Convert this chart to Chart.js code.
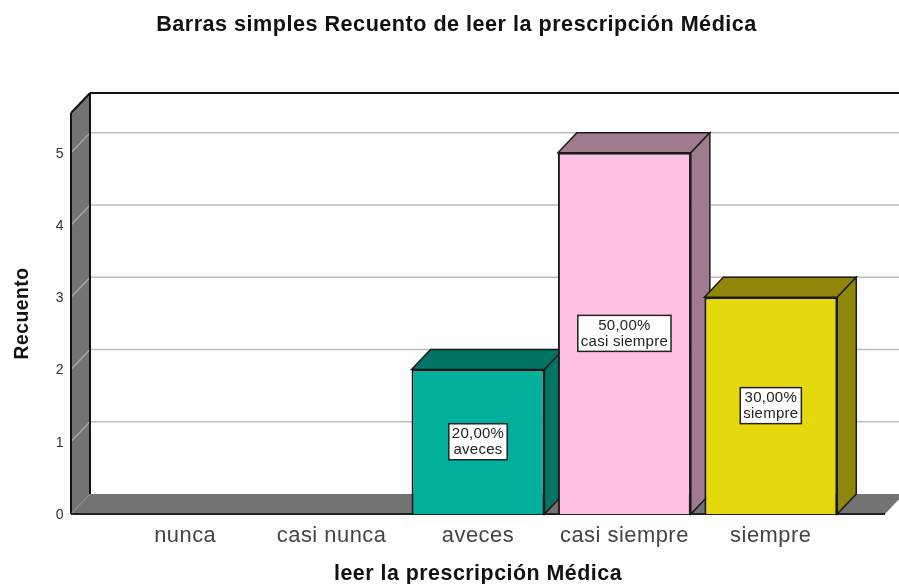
<!DOCTYPE html>
<html lang="es">
<head>
  <meta charset="UTF-8">
  <title>Barras simples Recuento de leer la prescripción Médica</title>
  <script src="https://cdn.jsdelivr.net/npm/chart.js"></script>
  <style>
    html, body { margin: 0; background: #fff; }
    canvas { display: block; }
  </style>
</head>
<body>
  <canvas id="myChart" width="899" height="584"></canvas>

  <script>
    const categories = ['nunca', 'casi nunca', 'aveces', 'casi siempre', 'siempre'];
    const counts = [0, 0, 2, 5, 3];
    const percents = ['', '', '20,00%', '50,00%', '30,00%'];

    const frontColors = ['#00b09b', '#00b09b', '#00b09b', '#ffc0e3', '#e5d90e'];
    const sideColors = ['#007565', '#007565', '#007565', '#a07b8f', '#8f860a'];

    // how far the back wall sits from the front plane
    const depthX = 19;
    const depthY = -20;
    const font = 'Liberation Sans, Arial, sans-serif';

    function poly(ctx, pts, fill, stroke, lineWidth) {
      ctx.beginPath();
      pts.forEach((p, i) => i ? ctx.lineTo(p[0], p[1]) : ctx.moveTo(p[0], p[1]));
      ctx.closePath();
      if (fill) { ctx.fillStyle = fill; ctx.fill(); }
      if (stroke) { ctx.strokeStyle = stroke; ctx.lineWidth = lineWidth; ctx.stroke(); }
    }

    function line(ctx, x1, y1, x2, y2, color, width) {
      ctx.beginPath();
      ctx.moveTo(x1, y1);
      ctx.lineTo(x2, y2);
      ctx.strokeStyle = color;
      ctx.lineWidth = width;
      ctx.stroke();
    }

    const box3d = {
      id: 'box3d',
      afterLayout(chart) {
        // main title is centred a bit right of the plot in the original
        chart.titleBlock.left += 29;
        chart.titleBlock.right += 29;
      },
      beforeDraw(chart) {
        // the original text is stretched sideways
        chart.ctx.letterSpacing = '0.5px';
      },
      beforeDatasetsDraw(chart) {
        const ctx = chart.ctx;
        const y = chart.scales.y;
        const top = chart.chartArea.top;
        const base = chart.chartArea.bottom;
        const wallLeft = 71;
        const floorRight = 885;
        const far = chart.width;

        ctx.save();
        // grid lines on the side wall and on the back wall
        poly(ctx, [[wallLeft, top], [wallLeft + depthX, top + depthY], [wallLeft + depthX, base + depthY], [wallLeft, base]], '#737373');
        y.ticks.forEach(t => {
          if (t.value === 0) return;
          const py = y.getPixelForValue(t.value);
          line(ctx, wallLeft, py, wallLeft + depthX, py + depthY, '#a8a8a8', 1.5);
          line(ctx, wallLeft + depthX, py + depthY, far, py + depthY, '#bdbdbd', 1.5);
        });
        // floor
        poly(ctx, [[wallLeft, base], [wallLeft + depthX, base + depthY], [floorRight + depthX, base + depthY], [floorRight, base]], '#737373');
        line(ctx, wallLeft, base, wallLeft + depthX, base + depthY, '#949494', 1);
        // outlines
        line(ctx, wallLeft + depthX, top + depthY, far, top + depthY, '#111', 2);
        line(ctx, wallLeft + depthX, top + depthY, wallLeft + depthX, base + depthY, '#111', 2);
        line(ctx, wallLeft, top, wallLeft + depthX, top + depthY, '#111', 2);
        line(ctx, wallLeft, top, wallLeft, base, '#111', 2);
        line(ctx, wallLeft, base, floorRight, base, '#222', 2);

        // top and side faces of the bars, left to right
        chart.getDatasetMeta(0).data.forEach((bar, i) => {
          if (!counts[i]) return;
          const p = bar.getProps(['x', 'y', 'base', 'width'], true);
          const l = p.x - p.width / 2;
          const r = p.x + p.width / 2;
          poly(ctx, [[l, p.y], [l + depthX, p.y + depthY], [r + depthX, p.y + depthY], [r, p.y]], sideColors[i], '#1a1a1a', 1.5);
          poly(ctx, [[r, p.y], [r + depthX, p.y + depthY], [r + depthX, p.base + depthY], [r, p.base]], sideColors[i], '#1a1a1a', 1.5);
        });
        ctx.restore();
      },
      afterDatasetsDraw(chart) {
        const ctx = chart.ctx;
        ctx.save();
        ctx.letterSpacing = '0.25px';
        ctx.font = '15px ' + font;
        ctx.textAlign = 'center';
        ctx.textBaseline = 'middle';
        chart.getDatasetMeta(0).data.forEach((bar, i) => {
          if (!counts[i]) return;
          const p = bar.getProps(['x', 'y', 'base'], true);
          const midY = (p.y + p.base) / 2;
          const w = Math.max(ctx.measureText(percents[i]).width, ctx.measureText(categories[i]).width) + 6;
          ctx.fillStyle = '#fff';
          ctx.fillRect(p.x - w / 2, midY - 18, w, 36);
          ctx.strokeStyle = '#222';
          ctx.lineWidth = 1.5;
          ctx.strokeRect(p.x - w / 2, midY - 18, w, 36);
          ctx.fillStyle = '#222';
          ctx.fillText(percents[i], p.x, midY - 8);
          ctx.fillText(categories[i], p.x, midY + 8);
        });
        ctx.restore();
      }
    };

    new Chart(document.getElementById('myChart'), {
      type: 'bar',
      plugins: [box3d],
      data: {
        labels: categories,
        datasets: [{
          label: 'Recuento',
          data: counts,
          backgroundColor: frontColors,
          borderColor: '#1a1a1a',
          borderWidth: 2,
          categoryPercentage: 1,
          barPercentage: 0.908,
          clip: false
        }]
      },
      options: {
        responsive: false,
        animation: false,
        layout: { padding: { left: 11, right: 55, top: 0, bottom: 0 } },
        plugins: {
          legend: { display: false },
          tooltip: { enabled: false },
          title: {
            display: true,
            text: 'Barras simples Recuento de leer la prescripción Médica',
            color: '#111',
            font: { family: font, size: 21.6, weight: 'bold' },
            padding: { top: 12.5, bottom: 74.6 }
          }
        },
        scales: {
          x: {
            afterFit(scale) { scale.height = 70; },
            grid: { display: false },
            border: { display: false },
            ticks: { color: '#444', padding: 1, font: { family: font, size: 21.9 }, maxRotation: 0, autoSkip: false },
            title: {
              display: true,
              text: 'leer la prescripción Médica',
              color: '#111',
              font: { family: font, size: 21.4, weight: 'bold' },
              padding: { top: 10, bottom: -3 }
            }
          },
          y: {
            min: 0,
            max: 5.55,
            afterFit(scale) { scale.width = 101; },
            grid: { display: false },
            border: { display: false },
            ticks: { stepSize: 1, includeBounds: false, color: '#333', padding: 40, labelOffset: 1, font: { family: font, size: 14 } },
            title: {
              display: true,
              text: 'Recuento',
              color: '#111',
              font: { family: font, size: 19.3, weight: 'bold' },
              padding: { top: 0, bottom: 0 }
            }
          }
        }
      }
    });
  </script>
</body>
</html>
